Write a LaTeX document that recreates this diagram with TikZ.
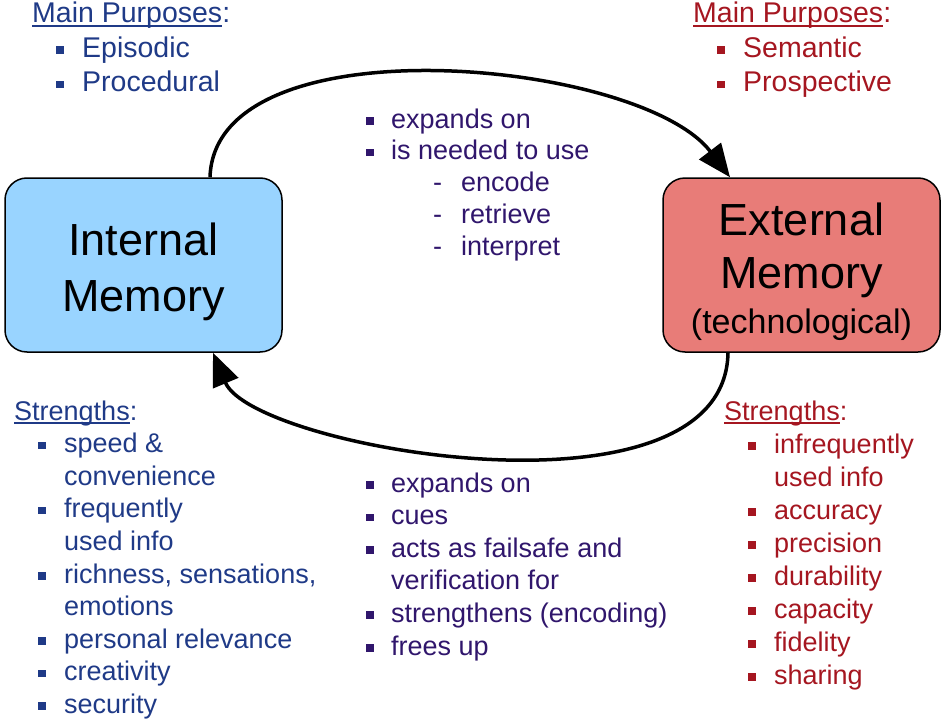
\documentclass[tikz,border=0pt]{standalone}
\usepackage{fontspec}
\setmainfont{Liberation Sans}
\usepackage{tikz}
\usetikzlibrary{arrows.meta}
\definecolor{intcolor}{RGB}{31,58,135}
\definecolor{extcolor}{RGB}{165,22,32}
\definecolor{linkcolor}{RGB}{48,22,108}
\definecolor{intfill}{RGB}{153,212,255}
\definecolor{extfill}{RGB}{232,124,120}
\newsavebox{\headbox}
\newcommand{\underhead}[1]{\sbox\headbox{#1}\rlap{\rule[-4.3pt]{\wd\headbox}{2pt}}\usebox\headbox}
\newcommand{\sqbullet}{\raisebox{3.5pt}{\rule{7.5pt}{7.5pt}}}
\newcommand{\itm}{\hspace*{24pt}\makebox[26pt][l]{\sqbullet}}
\newcommand{\cnt}{\hspace*{50pt}}
\newcommand{\bitm}{\makebox[25pt][l]{\sqbullet}}
\newcommand{\subitm}{\hspace*{67pt}\makebox[28pt][l]{-}}
\tikzset{membox/.style={draw=black, line width=1.5pt, rounded corners=22pt,
         minimum width=277pt, minimum height=174pt, inner sep=0pt,
         font={\fontsize{45}{56}\selectfont}},
         textlist/.style={anchor=base west, inner sep=0pt,
         font={\fontsize{27}{32.6}\selectfont}},
         flowarrow/.style={line width=3.5pt, -{Triangle[length=33pt,width=27pt]}}}

\begin{document}
\begin{tikzpicture}[x=1pt,y=-1pt]
\useasboundingbox (0,0) rectangle (945,725);

\node [membox, fill=intfill] (intmem) at (143.5,265)
  {\begin{tabular}{@{}c@{}}\rule{0pt}{53pt}Internal\\Memory\end{tabular}};
\node [membox, fill=extfill, font={\fontsize{45}{53}\selectfont}] (extmem) at (801.5,265)
  {\begin{tabular}{@{}c@{}}\rule{0pt}{54pt}External\\Memory\\[-8pt]{\fontsize{34}{40}\selectfont (technological)}\end{tabular}};

% purposes
\node [textlist, text=intcolor, font={\fontsize{28.5}{34.5}\selectfont}] (intpurp) at (32,23)
  {\begin{tabular}[t]{@{}l@{}}\underhead{Main Purposes}:\\ \itm Episodic\\ \itm Procedural\end{tabular}};
\node [textlist, text=extcolor, font={\fontsize{28.5}{34.5}\selectfont}] (extpurp) at (693,23)
  {\begin{tabular}[t]{@{}l@{}}\underhead{Main Purposes}:\\ \itm Semantic\\ \itm Prospective\end{tabular}};

% links
\node [textlist, text=linkcolor, font={\fontsize{27}{31.8}\selectfont}] (toplink) at (366,128)
  {\begin{tabular}[t]{@{}l@{}}\bitm expands on\\ \bitm is needed to use\\ \subitm encode\\ \subitm retrieve\\ \subitm interpret\end{tabular}};
\node [textlist, text=linkcolor] (botlink) at (366,492)
  {\begin{tabular}[t]{@{}l@{}}\bitm expands on\\ \bitm cues\\ \bitm acts as failsafe and\\ \hspace*{25pt}verification for\\ \bitm strengthens (encoding)\\ \bitm frees up\end{tabular}};

% strengths
\node [textlist, text=intcolor] (intstr) at (14,420)
  {\begin{tabular}[t]{@{}l@{}}\underhead{Strengths}:\\ \itm speed \&\\ \cnt convenience\\ \itm frequently\\ \cnt used info\\
   \itm richness, sensations,\\ \cnt emotions\\ \itm personal relevance\\ \itm creativity\\ \itm security\end{tabular}};
\node [textlist, text=extcolor, font={\fontsize{27}{33}\selectfont}] (extstr) at (724,420)
  {\begin{tabular}[t]{@{}l@{}}\underhead{Strengths}:\\ \itm infrequently\\ \cnt used info\\ \itm accuracy\\ \itm precision\\
   \itm durability\\ \itm capacity\\ \itm fidelity\\ \itm sharing\end{tabular}};

\draw [flowarrow] ([xshift=66.5pt]intmem.north) .. controls +(5,-158) and +(-90,-118) .. ([xshift=-71.5pt]extmem.north);
\draw [flowarrow] ([xshift=-73.5pt]extmem.south) .. controls +(-3,178) and +(40,96) .. ([xshift=69.5pt]intmem.south);
\end{tikzpicture}
\end{document}
